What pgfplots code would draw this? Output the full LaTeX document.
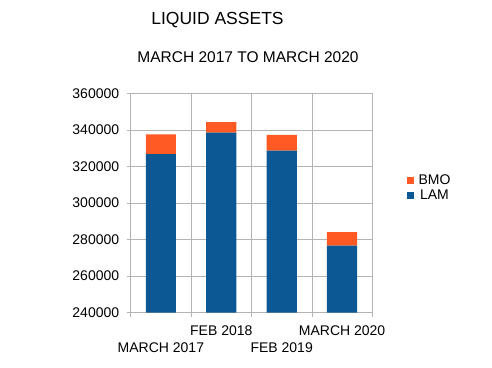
\documentclass[border=0pt]{standalone}
\usepackage{pgfplots}
\pgfplotsset{compat=1.18}
\usepackage{fontspec}
\setmainfont{Liberation Sans}
\definecolor{lam}{HTML}{0B5894}
\definecolor{bmo}{HTML}{FF5A24}
\definecolor{gridc}{HTML}{B3B3B3}
\begin{document}
\begin{tikzpicture}[x=1pt,y=1pt]
\path[use as bounding box, fill=white] (-130.7,-54.3) rectangle (361.3,312.7);
\node[font=\fontsize{17.5}{20}\selectfont] at (86.8,292.7) {LIQUID ASSETS};
\node[font=\fontsize{15.5}{18}\selectfont] at (117.3,255.2) {MARCH 2017 TO MARCH 2020};
\begin{axis}[
  scale only axis, width=241.6, height=219.4,
  ybar stacked, bar width=0.5,
  xmin=0.5, xmax=4.5, ymin=240000, ymax=360000,
  enlargelimits=false,
  scaled y ticks=false,
  ytick={240000,260000,280000,300000,320000,340000,360000},
  yticklabels={240000,260000,280000,300000,320000,340000,360000},
  xtick={2,4}, xticklabels={FEB 2018, MARCH 2020},
  extra x ticks={1,3}, extra x tick labels={MARCH 2017, FEB 2019},
  extra x tick style={xticklabel style={yshift=-17pt}, major x tick style={draw=none}},
  minor xtick={0.5,1.5,2.5,3.5,4.5},
  xminorgrids=true, ymajorgrids=true,
  grid style={gridc, line width=0.6pt},
  minor grid style={gridc, line width=0.6pt},
  axis line style={gridc, line width=0.6pt},
  tick style={gridc, line width=0.6pt},
  tick align=outside,
  major x tick style={draw=none},
  minor tick length=4pt, major tick length=4pt,
  xtick pos=bottom, ytick pos=left,
  tick label style={font=\fontsize{14}{16}\selectfont, text=black},
  xticklabel style={yshift=-5pt},
  yticklabel style={xshift=-4pt},
  legend style={at={(1,0.5)}, anchor=west, xshift=31pt, yshift=15pt, draw=none, fill=none,
    font=\fontsize{14}{16}\selectfont, row sep=0pt},
  legend image code/.code={\fill[#1] (0pt,-3.8pt) rectangle (7.6pt,3.8pt); \path (10pt,0pt);},
  reverse legend,
]
\addplot+[fill=lam, draw=none] coordinates {(1,326800) (2,338500) (3,328600) (4,276700)};
\addplot+[fill=bmo, draw=none] coordinates {(1,10800) (2,5800) (3,8600) (4,7400)};
\legend{LAM, BMO}
\end{axis}
\end{tikzpicture}
\end{document}
